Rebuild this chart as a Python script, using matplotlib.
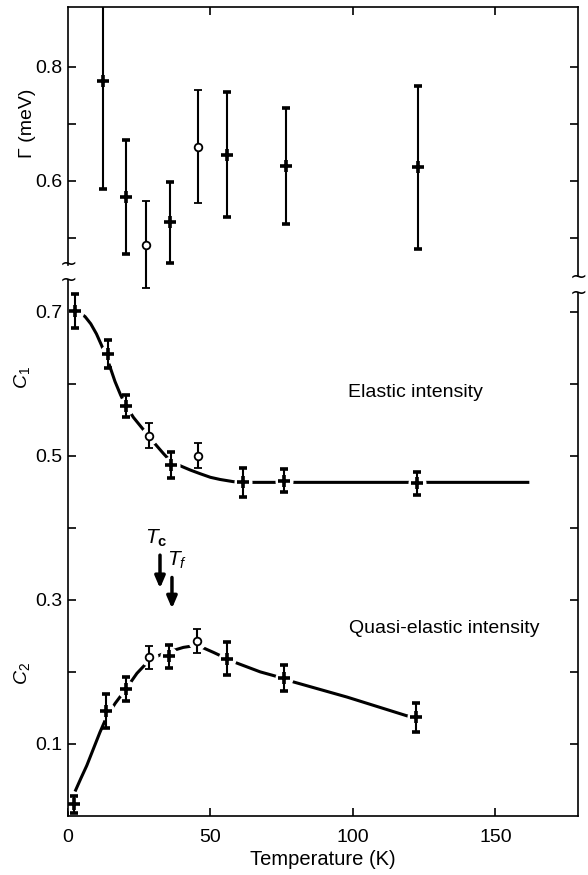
import matplotlib
matplotlib.use('Agg')
import matplotlib.pyplot as plt
import matplotlib.transforms as mtransforms

plt.rcParams['font.family'] = ['Liberation Sans', 'DejaVu Sans']
plt.rcParams['mathtext.fontset'] = 'custom'
plt.rcParams['mathtext.rm'] = 'Liberation Sans'
plt.rcParams['mathtext.it'] = 'Liberation Sans:italic'
plt.rcParams['mathtext.bf'] = 'Liberation Sans:bold'

# linewidth Gamma (meV)
T_gam = [12.4, 20.3, 27.4, 35.9, 45.6, 55.8, 76.5, 122.9]
gam = [0.775, 0.571, 0.488, 0.527, 0.660, 0.646, 0.626, 0.624]
gam_err = [0.189, 0.100, 0.077, 0.071, 0.099, 0.110, 0.102, 0.143]
gam_open = [False, False, True, False, True, False, False, False]

# elastic intensity C1
T_c1 = [2.5, 14.0, 20.5, 28.6, 36.1, 45.8, 61.6, 75.9, 122.6]
c1 = [0.701, 0.641, 0.569, 0.528, 0.487, 0.500, 0.463, 0.465, 0.462]
c1_err = [0.024, 0.019, 0.015, 0.018, 0.018, 0.017, 0.020, 0.016, 0.016]
c1_open = [False, False, False, True, False, True, False, False, False]
T_c1_fit = [2.5, 4.2, 6.0, 8.0, 10.0, 11.8, 14.0, 16.5, 18.5, 20.4, 23.0, 26.5, 30.0, 33.5, 36.1,
            40.0, 43.0, 46.4, 50.0, 53.4, 58.0, 61.6, 75.9, 100, 122.6, 140, 161.4]
c1_fit = [0.701, 0.698, 0.693, 0.683, 0.669, 0.653, 0.632, 0.603, 0.584, 0.569, 0.553, 0.536,
          0.519, 0.503, 0.492, 0.485, 0.480, 0.475, 0.470, 0.467, 0.464, 0.463, 0.463, 0.463,
          0.463, 0.463, 0.463]

# quasi-elastic intensity C2
T_c2 = [2.0, 13.4, 20.3, 28.5, 35.5, 45.4, 55.8, 75.7, 122.3]
c2 = [0.016, 0.146, 0.176, 0.220, 0.222, 0.243, 0.218, 0.191, 0.137]
c2_err = [0.012, 0.024, 0.017, 0.016, 0.016, 0.017, 0.023, 0.018, 0.020]
c2_open = [False, False, False, True, False, True, False, False, False]
T_c2_fit = [2.7, 4.5, 6.6, 9.0, 11.2, 13.4, 16.5, 20.3, 24.2, 28.5, 32.0, 35.5, 40.5, 45.4,
            51.1, 58.1, 67.5, 75.7, 79.2, 98, 119, 122.3]
c2_fit = [0.036, 0.052, 0.070, 0.094, 0.116, 0.136, 0.156, 0.176, 0.198, 0.216, 0.223, 0.228,
          0.234, 0.237, 0.227, 0.214, 0.200, 0.191, 0.186, 0.165, 0.139, 0.137]

T_c, T_f = 32.3, 36.5

fig = plt.figure(figsize=(5.88, 8.75), dpi=100)
axb = fig.add_axes([0.1156, 0.0674, 0.8673, 0.6126])
axt = fig.add_axes([0.1156, 0.6571, 0.8673, 0.3349])
for ax in (axt, axb):
    ax.patch.set_visible(False)
    ax.set_xlim(0, 179)
    for s in ax.spines.values():
        s.set_linewidth(1.2)
    ax.tick_params(direction='in', length=6, width=1.2, labelsize=14,
                   left=True, right=True)

def draw(ax, x, y, err, opn):
    for xi, yi, ei, oi in zip(x, y, err, opn):
        if oi:
            ax.errorbar(xi, yi, yerr=ei, fmt='o', ms=5.5, mfc='white', mec='black',
                        mew=1.3, ecolor='black', elinewidth=1.5, capsize=3,
                        capthick=1.5, zorder=3)
        else:
            ax.errorbar(xi, yi, yerr=ei, fmt='+', ms=8, mec='black', mew=2.6,
                        ecolor='black', elinewidth=1.5, capsize=3,
                        capthick=1.5, zorder=3)

# top panel
axt.set_ylim(0.3907, 0.905)
axt.spines['bottom'].set_visible(False)
axt.spines['left'].set_bounds(0.452, 0.905)
axt.spines['right'].set_bounds(0.433, 0.905)
axt.set_yticks([0.5, 0.6, 0.7, 0.8], labels=['', '0.6', '', '0.8'])
axt.set_xticks([50, 100, 150])
axt.tick_params(axis='x', bottom=False, top=True, labelbottom=False)
axt.tick_params(axis='y', pad=4)
draw(axt, T_gam, gam, gam_err, gam_open)
axt.text(-0.08, 0.7, 'Γ (meV)', transform=mtransforms.blended_transform_factory(axt.transAxes, axt.transData),
         rotation=90, ha='center', va='center', fontsize=14)

# bottom panel
axb.set_ylim(0, 0.7438)
axb.spines['top'].set_visible(False)
axb.spines['right'].set_bounds(0, 0.726)
axb.set_yticks([0.1, 0.2, 0.3, 0.4, 0.5, 0.6, 0.7],
               labels=['0.1', '', '0.3', '', '0.5', '', '0.7'])
axb.set_xticks([0, 50, 100, 150])
axb.tick_params(axis='x', top=False, pad=9)
axb.tick_params(axis='y', pad=4)
axb.set_xlabel('Temperature (K)', fontsize=14.5, labelpad=3)

axb.plot(T_c1_fit, c1_fit, color='black', lw=2.2, zorder=1.5)
axb.plot(T_c2_fit, c2_fit, color='black', lw=2.2, zorder=1.5)
# gaps in the curves around data points
axb.plot(T_c1, c1, 'o', ms=13, mfc='white', mec='none', zorder=1.8)
axb.plot(T_c2, c2, 'o', ms=13, mfc='white', mec='none', zorder=1.8)
draw(axb, T_c1, c1, c1_err, c1_open)
draw(axb, T_c2, c2, c2_err, c2_open)

bt = mtransforms.blended_transform_factory(axb.transAxes, axb.transData)
axb.text(-0.09, 0.608, '$C_1$', transform=bt, rotation=90, ha='center', va='center', fontsize=14)
axb.text(-0.09, 0.198, '$C_2$', transform=bt, rotation=90, ha='center', va='center', fontsize=14)

axb.text(122, 0.587, 'Elastic intensity', ha='center', va='center', fontsize=14)
axb.text(131.9, 0.260, 'Quasi-elastic intensity', ha='center', va='center', fontsize=14)

arrow = dict(arrowstyle='-|>,head_width=0.3,head_length=0.7', color='black', lw=2.5,
             shrinkA=0, shrinkB=0)
axb.annotate('', xy=(T_c, 0.316), xytext=(T_c, 0.362), arrowprops=arrow)
axb.annotate('', xy=(T_f, 0.288), xytext=(T_f, 0.331), arrowprops=arrow)
axb.text(31.1, 0.386, r'$T_\mathbf{c}$', ha='center', va='center', fontsize=15)
axb.text(38.3, 0.355, r'$T_f$', ha='center', va='center', fontsize=15)

# axis break marks
for xf, yp in [(68, 272), (578, 285)]:
    fig.text(xf / 588, 1 - yp / 875, '~\n~', ha='center', va='center',
             fontsize=15, linespacing=0.75, family='DejaVu Sans')

fig.savefig('out.png', dpi=100)
